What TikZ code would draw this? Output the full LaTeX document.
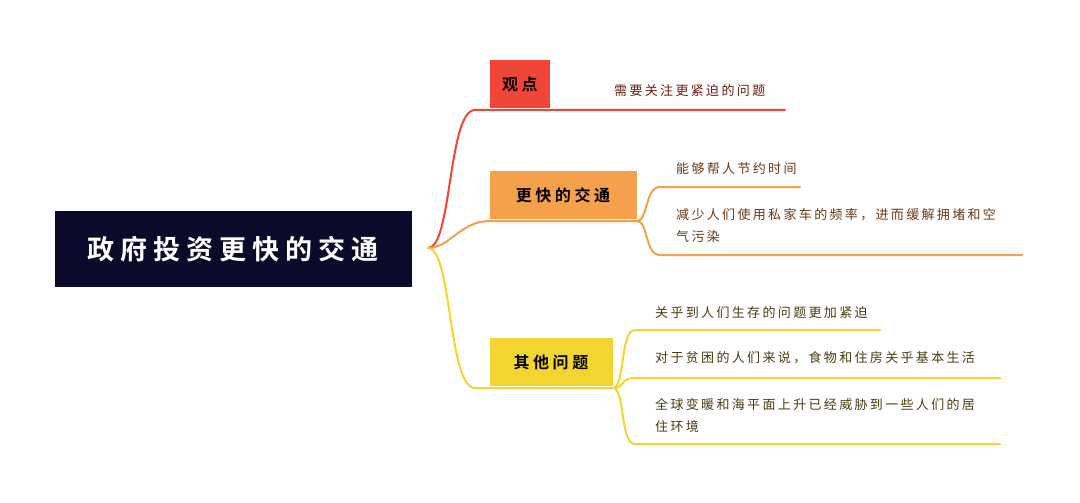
\documentclass[tikz,border=0pt]{standalone}
\usepackage{fontspec}
\setmainfont{Noto Sans CJK SC}
\newfontfamily\wide[LetterSpace=18]{Noto Sans CJK SC}
\newfontfamily\widebold[LetterSpace=22,BoldFont={* Bold}]{Noto Sans CJK SC}
\begin{document}
\begin{tikzpicture}[x=1pt,y=-1pt,
  ln/.style={line width=2pt,line cap=round},
  lbl/.style={anchor=west,font=\wide\fontsize{13}{22}\selectfont,inner sep=0pt,align=left},
  box/.style={minimum height=48pt,inner sep=0pt,font=\widebold\bfseries\fontsize{16}{18}\selectfont,text=black}]
\definecolor{navy}{HTML}{0B0A2A}
\definecolor{cred}{HTML}{F2453A}
\definecolor{corg}{HTML}{F5A04A}
\definecolor{cyel}{HTML}{F2D530}
\definecolor{tr}{HTML}{6B1E12}
\definecolor{to}{HTML}{6A3A12}
\definecolor{ty}{HTML}{4A3E10}
\useasboundingbox (0,0) rectangle (1080,503);
\fill[white] (0,0) rectangle (1080,503);
\node[fill=navy,minimum width=357pt,minimum height=76pt,text=white,font=\widebold\bfseries\fontsize{27}{30}\selectfont] (root) at (233,249) {政府投资更快的交通};
\node[box,fill=cred,minimum width=60pt] (b1) at (520,84) {观点};
\node[box,fill=corg,minimum width=147pt] (b2) at (563,195) {更快的交通};
\node[box,fill=cyel,minimum width=123pt] (b3) at (551,362) {其他问题};
\coordinate (r) at (428,248);
\draw[ln,cred] (r) .. controls (452,248) and (448,110) .. (475,110) -- (785,110);
\draw[ln,corg] (r) .. controls (450,248) and (460,221) .. (490,221) -- (637,221);
\draw[ln,cyel] (r) .. controls (452,248) and (448,388) .. (475,388) -- (613,388);
\node[lbl,text=tr] (c1) at (614,91) {需要关注更紧迫的问题};
\draw[ln,corg] (637,221) .. controls (648,221) and (645,187) .. (660,187) -- (800,187);
\draw[ln,corg] (637,221) .. controls (648,221) and (645,255) .. (660,255) -- (1022,255);
\node[lbl,text=to] (o1) at (676,169) {能够帮人节约时间};
\node[lbl,text=to] (o2) at (676,226) {减少人们使用私家车的频率，进而缓解拥堵和空\\气污染};
\draw[ln,cyel] (613,388) .. controls (625,388) and (620,330) .. (635,330) -- (880,330);
\draw[ln,cyel] (613,388) .. controls (625,388) and (620,378) .. (635,378) -- (1000,378);
\draw[ln,cyel] (613,388) .. controls (625,388) and (620,444) .. (635,444) -- (1000,444);
\node[lbl,text=ty] (y1) at (655,313) {关乎到人们生存的问题更加紧迫};
\node[lbl,text=ty] (y2) at (655,358) {对于贫困的人们来说，食物和住房关乎基本生活};
\node[lbl,text=ty] (y3) at (655,416) {全球变暖和海平面上升已经威胁到一些人们的居\\住环境};
\end{tikzpicture}
\end{document}
